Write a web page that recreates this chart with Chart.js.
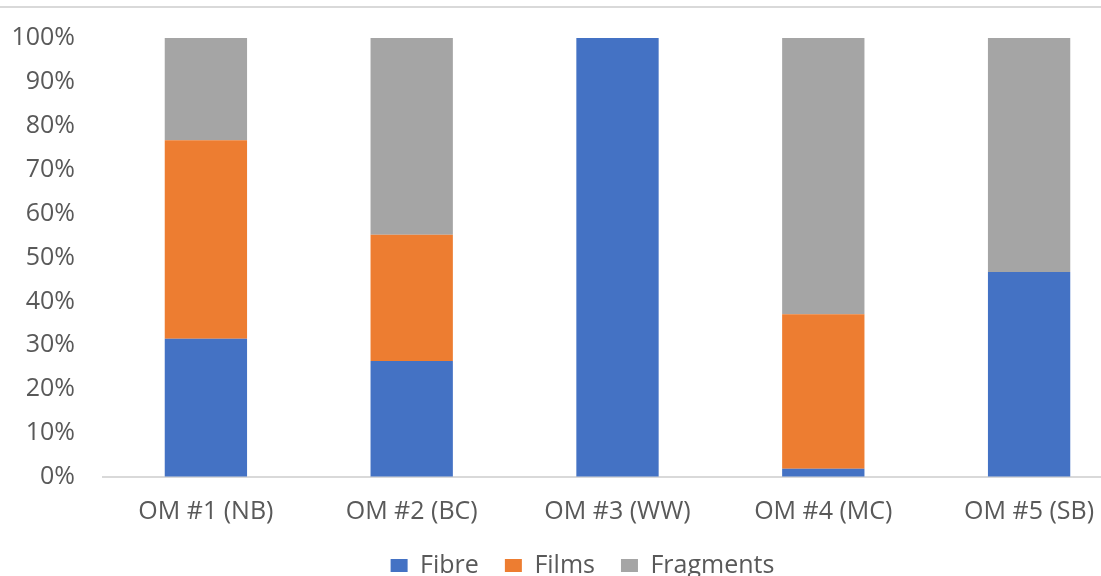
<!DOCTYPE html>
<html>
<head>
<meta charset="utf-8">
<title>Composition by site</title>
<script src="https://cdn.jsdelivr.net/npm/chart.js@4.4.1/dist/chart.umd.min.js"></script>
<style>
  html, body { margin: 0; padding: 0; background: #ffffff; overflow: hidden; }
  #wrap { position: absolute; left: 0; top: 0; width: 1165px; height: 588px; }
</style>
</head>
<body>
<div id="wrap"><canvas id="chart" width="1165" height="588"></canvas></div>
<script>
// Sampling sites
const categories = ['OM #1 (NB)', 'OM #2 (BC)', 'OM #3 (WW)', 'OM #4 (MC)', 'OM #5 (SB)'];

// Share of each particle type per site (%)
const fibre     = [31.5, 26.4, 100, 1.9, 46.7];
const films     = [45.2, 28.8, 0, 35.2, 0];
const fragments = [23.3, 44.8, 0, 62.9, 53.3];

const seriesNames = ['Fibre', 'Films', 'Fragments'];
const seriesColors = ['#4472C4', '#ED7D31', '#A5A5A5'];

const textColor = '#595959';
const fontFamily = '"Open Sans", "Noto Sans", sans-serif';
const fontSize = 25;

// Thin rule across the top of the chart frame
const topRule = {
  id: 'topRule',
  beforeDraw(chart) {
    const ctx = chart.ctx;
    ctx.save();
    ctx.strokeStyle = '#d9d9d9';
    ctx.lineWidth = 2;
    ctx.beginPath();
    ctx.moveTo(0, 7);
    ctx.lineTo(chart.width, 7);
    ctx.stroke();
    ctx.restore();
  }
};

// Centre the legend under the whole frame rather than the padded area
const legendShift = {
  id: 'legendShift',
  afterLayout(chart) {
    const lg = chart.legend;
    if (lg) { lg.left += 16.5; lg.right += 16.5; }
  }
};

new Chart(document.getElementById('chart'), {
  type: 'bar',
  data: {
    labels: categories,
    datasets: [fibre, films, fragments].map((values, i) => ({
      label: seriesNames[i],
      data: values,
      backgroundColor: seriesColors[i],
      borderWidth: 0,
      barPercentage: 0.4,
      categoryPercentage: 1.0
    }))
  },
  options: {
    responsive: false,
    animation: false,
    layout: { padding: { top: 38, right: 33, bottom: 0, left: 0 } },
    plugins: {
      tooltip: { enabled: false },
      legend: {
        position: 'bottom',
        labels: {
          color: textColor,
          font: { family: fontFamily, size: fontSize },
          boxWidth: 17,
          boxHeight: 13,
          padding: 26
        }
      }
    },
    scales: {
      x: {
        stacked: true,
        grid: { display: false, drawTicks: false },
        border: { display: true, color: '#d9d9d9', width: 2 },
        ticks: {
          color: textColor,
          font: { family: fontFamily, size: fontSize },
          padding: 20,
          maxRotation: 0
        },
        afterFit(scale) { scale.height = 50; }
      },
      y: {
        stacked: true,
        min: 0,
        max: 100,
        grid: {
          display: true,
          drawOnChartArea: false,
          drawTicks: true,
          tickLength: 20,
          color: 'rgba(0,0,0,0)'
        },
        border: { display: false },
        ticks: {
          stepSize: 10,
          color: textColor,
          font: { family: fontFamily, size: fontSize },
          padding: 8,
          callback: v => v + '%'
        },
        afterFit(scale) { scale.width = 103; }
      }
    }
  },
  plugins: [topRule, legendShift]
});
</script>
</body>
</html>
